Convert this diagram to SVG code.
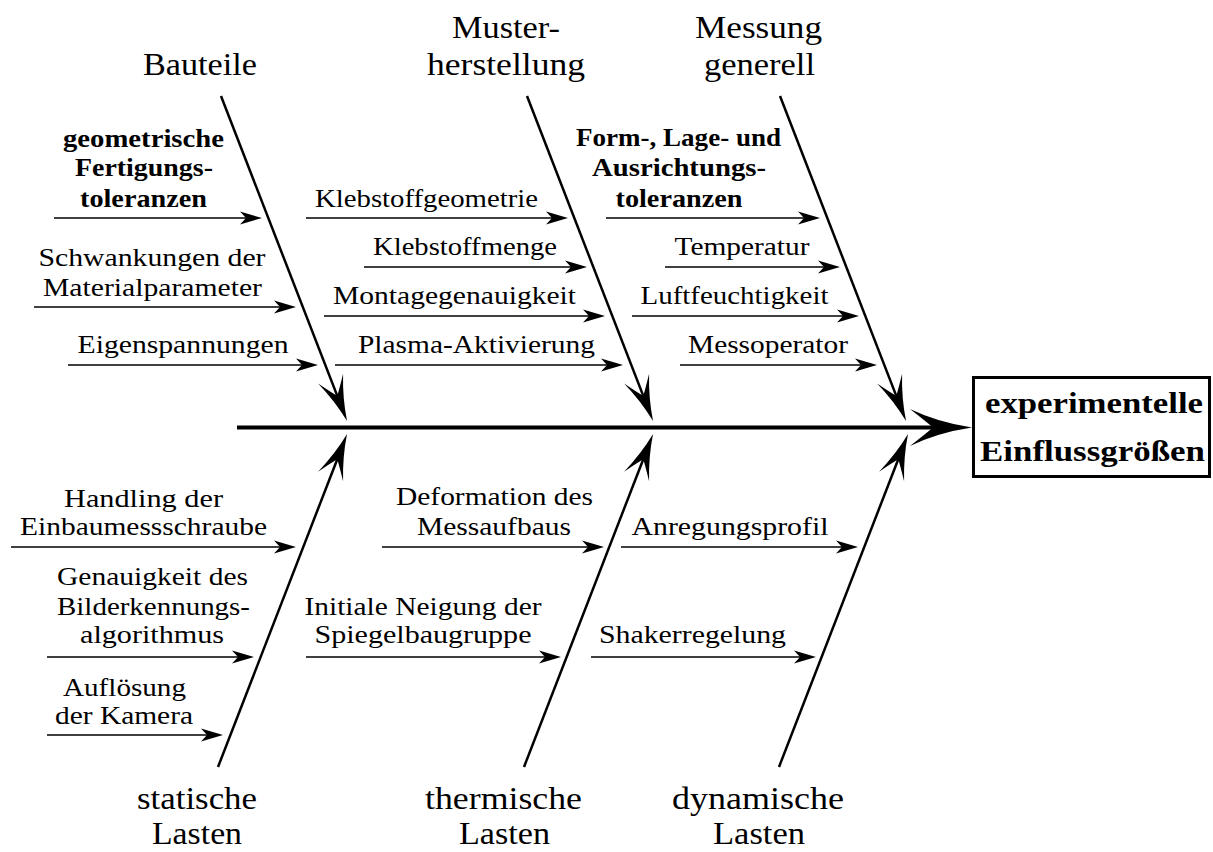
<svg xmlns="http://www.w3.org/2000/svg" width="1213" height="852" viewBox="0 0 1213 852">
  <style>
    text { font-family: "Liberation Serif", "Times New Roman", serif; fill: #000; text-anchor: middle; }
    .title { font-size: 31px; }
    .cause { font-size: 25px; }
    .bold { font-weight: bold; }
    .effect { font-size: 29px; font-weight: bold; }
    .spine { stroke: #000; stroke-width: 4; fill: none; }
    .bone { stroke: #000; stroke-width: 2.5; fill: none; }
    .sub { stroke: #000; stroke-width: 1.6; fill: none; }
  </style>
  <defs>
    <!-- notched heads, tip placed ahead of the line end -->
    <marker id="headSpine" markerUnits="userSpaceOnUse" orient="auto" overflow="visible" refX="0" refY="0" markerWidth="1" markerHeight="1">
      <path d="M30,0 Q-4,-5 -32,-18.5 Q-16,-6 -9,0 Q-16,6 -32,18.5 Q-4,5 30,0 Z" fill="#000"/>
    </marker>
    <marker id="headBone" markerUnits="userSpaceOnUse" orient="auto" overflow="visible" refX="0" refY="0" markerWidth="1" markerHeight="1">
      <path d="M20,0 Q-3,-4 -25.5,-13.4 Q-12,-4 -7,0 Q-12,4 -25.5,13.4 Q-3,4 20,0 Z" fill="#000"/>
    </marker>
    <marker id="headSub" markerUnits="userSpaceOnUse" orient="auto" overflow="visible" refX="0" refY="0" markerWidth="1" markerHeight="1">
      <path d="M12,0 L-10,-6.5 L-4,0 L-10,6.5 Z" fill="#000"/>
    </marker>
  </defs>

  <rect width="1213" height="852" fill="#fff"/>

  <g id="connectors">
    <!-- main spine -->
    <line class="spine" x1="237" y1="427.5" x2="942" y2="427.5" marker-end="url(#headSpine)"/>
    <!-- category bones, upper -->
    <line class="bone" x1="221" y1="96" x2="339.8" y2="402.4" marker-end="url(#headBone)"/>
    <line class="bone" x1="527" y1="96" x2="645.8" y2="402.4" marker-end="url(#headBone)"/>
    <line class="bone" x1="780" y1="96" x2="898.8" y2="402.4" marker-end="url(#headBone)"/>
    <!-- category bones, lower -->
    <line class="bone" x1="218" y1="767" x2="339.8" y2="452.7" marker-end="url(#headBone)"/>
    <line class="bone" x1="524" y1="767" x2="645.8" y2="452.7" marker-end="url(#headBone)"/>
    <line class="bone" x1="779" y1="767" x2="900.8" y2="452.7" marker-end="url(#headBone)"/>
    <!-- cause arrows, upper -->
    <line class="sub" x1="54" y1="218" x2="250" y2="218" marker-end="url(#headSub)"/>
    <line class="sub" x1="34" y1="307" x2="284" y2="307" marker-end="url(#headSub)"/>
    <line class="sub" x1="68" y1="365" x2="306" y2="365" marker-end="url(#headSub)"/>
    <line class="sub" x1="306" y1="218" x2="556" y2="218" marker-end="url(#headSub)"/>
    <line class="sub" x1="364" y1="267" x2="575" y2="267" marker-end="url(#headSub)"/>
    <line class="sub" x1="324" y1="316" x2="593" y2="316" marker-end="url(#headSub)"/>
    <line class="sub" x1="335" y1="365" x2="611" y2="365" marker-end="url(#headSub)"/>
    <line class="sub" x1="606" y1="218" x2="808" y2="218" marker-end="url(#headSub)"/>
    <line class="sub" x1="665" y1="267" x2="828" y2="267" marker-end="url(#headSub)"/>
    <line class="sub" x1="632" y1="316" x2="847" y2="316" marker-end="url(#headSub)"/>
    <line class="sub" x1="680" y1="365" x2="865" y2="365" marker-end="url(#headSub)"/>
    <!-- cause arrows, lower -->
    <line class="sub" x1="11" y1="547" x2="284" y2="547" marker-end="url(#headSub)"/>
    <line class="sub" x1="47" y1="657" x2="242" y2="657" marker-end="url(#headSub)"/>
    <line class="sub" x1="47" y1="735" x2="211" y2="735" marker-end="url(#headSub)"/>
    <line class="sub" x1="382" y1="547" x2="592" y2="547" marker-end="url(#headSub)"/>
    <line class="sub" x1="306" y1="657" x2="549" y2="657" marker-end="url(#headSub)"/>
    <line class="sub" x1="621" y1="547" x2="846" y2="547" marker-end="url(#headSub)"/>
    <line class="sub" x1="591" y1="657" x2="804" y2="657" marker-end="url(#headSub)"/>
  </g>

  <g id="effect">
    <rect x="973.5" y="377.5" width="236" height="99" fill="#fff" stroke="#000" stroke-width="3"/>
    <text class="effect" x="1094" y="413" textLength="218" lengthAdjust="spacingAndGlyphs">experimentelle</text>
    <text class="effect" x="1092.5" y="461" textLength="225" lengthAdjust="spacingAndGlyphs">Einflussgrößen</text>
  </g>

  <!-- category titles -->
  <g id="cat-bauteile">
    <text class="title" x="200" y="75" textLength="114" lengthAdjust="spacingAndGlyphs">Bauteile</text>
  </g>
  <g id="cat-musterherstellung">
    <text class="title" x="506" y="38" textLength="108" lengthAdjust="spacingAndGlyphs">Muster-</text>
    <text class="title" x="506" y="75" textLength="158" lengthAdjust="spacingAndGlyphs">herstellung</text>
  </g>
  <g id="cat-messung">
    <text class="title" x="758.5" y="38" textLength="127" lengthAdjust="spacingAndGlyphs">Messung</text>
    <text class="title" x="759.5" y="75" textLength="111" lengthAdjust="spacingAndGlyphs">generell</text>
  </g>
  <g id="cat-statisch">
    <text class="title" x="197" y="809" textLength="120" lengthAdjust="spacingAndGlyphs">statische</text>
    <text class="title" x="197" y="844" textLength="90" lengthAdjust="spacingAndGlyphs">Lasten</text>
  </g>
  <g id="cat-thermisch">
    <text class="title" x="503.5" y="809" textLength="157" lengthAdjust="spacingAndGlyphs">thermische</text>
    <text class="title" x="504.5" y="844" textLength="91" lengthAdjust="spacingAndGlyphs">Lasten</text>
  </g>
  <g id="cat-dynamisch">
    <text class="title" x="758" y="809" textLength="172" lengthAdjust="spacingAndGlyphs">dynamische</text>
    <text class="title" x="759" y="844" textLength="92" lengthAdjust="spacingAndGlyphs">Lasten</text>
  </g>

  <!-- causes: Bauteile -->
  <g id="cause-geotol">
    <text class="cause bold" x="143.5" y="147" textLength="161" lengthAdjust="spacingAndGlyphs">geometrische</text>
    <text class="cause bold" x="144" y="176" textLength="138" lengthAdjust="spacingAndGlyphs">Fertigungs-</text>
    <text class="cause bold" x="143.5" y="207" textLength="127" lengthAdjust="spacingAndGlyphs">toleranzen</text>
  </g>
  <g id="cause-material">
    <text class="cause" x="152" y="266" textLength="227" lengthAdjust="spacingAndGlyphs">Schwankungen der</text>
    <text class="cause" x="152.5" y="296" textLength="219" lengthAdjust="spacingAndGlyphs">Materialparameter</text>
  </g>
  <g id="cause-eigenspannungen">
    <text class="cause" x="183" y="353" textLength="211" lengthAdjust="spacingAndGlyphs">Eigenspannungen</text>
  </g>

  <!-- causes: Musterherstellung -->
  <g id="cause-klebgeo">
    <text class="cause" x="426.5" y="207" textLength="223" lengthAdjust="spacingAndGlyphs">Klebstoffgeometrie</text>
  </g>
  <g id="cause-klebmenge">
    <text class="cause" x="465" y="255" textLength="184" lengthAdjust="spacingAndGlyphs">Klebstoffmenge</text>
  </g>
  <g id="cause-montage">
    <text class="cause" x="454.5" y="304" textLength="243" lengthAdjust="spacingAndGlyphs">Montagegenauigkeit</text>
  </g>
  <g id="cause-plasma">
    <text class="cause" x="476.5" y="353" textLength="237" lengthAdjust="spacingAndGlyphs">Plasma-Aktivierung</text>
  </g>

  <!-- causes: Messung generell -->
  <g id="cause-formtol">
    <text class="cause bold" x="678.5" y="146" textLength="205" lengthAdjust="spacingAndGlyphs">Form-, Lage- und</text>
    <text class="cause bold" x="679" y="176" textLength="174" lengthAdjust="spacingAndGlyphs">Ausrichtungs-</text>
    <text class="cause bold" x="679" y="207" textLength="127" lengthAdjust="spacingAndGlyphs">toleranzen</text>
  </g>
  <g id="cause-temperatur">
    <text class="cause" x="742" y="255" textLength="135" lengthAdjust="spacingAndGlyphs">Temperatur</text>
  </g>
  <g id="cause-luft">
    <text class="cause" x="734.5" y="304" textLength="188" lengthAdjust="spacingAndGlyphs">Luftfeuchtigkeit</text>
  </g>
  <g id="cause-operator">
    <text class="cause" x="768" y="353" textLength="160" lengthAdjust="spacingAndGlyphs">Messoperator</text>
  </g>

  <!-- causes: statische Lasten -->
  <g id="cause-handling">
    <text class="cause" x="143.5" y="507" textLength="159" lengthAdjust="spacingAndGlyphs">Handling der</text>
    <text class="cause" x="143.5" y="535" textLength="247" lengthAdjust="spacingAndGlyphs">Einbaumessschraube</text>
  </g>
  <g id="cause-algorithmus">
    <text class="cause" x="152.5" y="585" textLength="191" lengthAdjust="spacingAndGlyphs">Genauigkeit des</text>
    <text class="cause" x="153.5" y="615" textLength="193" lengthAdjust="spacingAndGlyphs">Bilderkennungs-</text>
    <text class="cause" x="152" y="643" textLength="144" lengthAdjust="spacingAndGlyphs">algorithmus</text>
  </g>
  <g id="cause-kamera">
    <text class="cause" x="124.5" y="696" textLength="123" lengthAdjust="spacingAndGlyphs">Auflösung</text>
    <text class="cause" x="124" y="724" textLength="138" lengthAdjust="spacingAndGlyphs">der Kamera</text>
  </g>

  <!-- causes: thermische Lasten -->
  <g id="cause-deformation">
    <text class="cause" x="494.5" y="505" textLength="197" lengthAdjust="spacingAndGlyphs">Deformation des</text>
    <text class="cause" x="494" y="535" textLength="154" lengthAdjust="spacingAndGlyphs">Messaufbaus</text>
  </g>
  <g id="cause-neigung">
    <text class="cause" x="423" y="615" textLength="237" lengthAdjust="spacingAndGlyphs">Initiale Neigung der</text>
    <text class="cause" x="423" y="643" textLength="217" lengthAdjust="spacingAndGlyphs">Spiegelbaugruppe</text>
  </g>

  <!-- causes: dynamische Lasten -->
  <g id="cause-anregung">
    <text class="cause" x="730" y="535" textLength="197" lengthAdjust="spacingAndGlyphs">Anregungsprofil</text>
  </g>
  <g id="cause-shaker">
    <text class="cause" x="692.5" y="643" textLength="187" lengthAdjust="spacingAndGlyphs">Shakerregelung</text>
  </g>
</svg>
